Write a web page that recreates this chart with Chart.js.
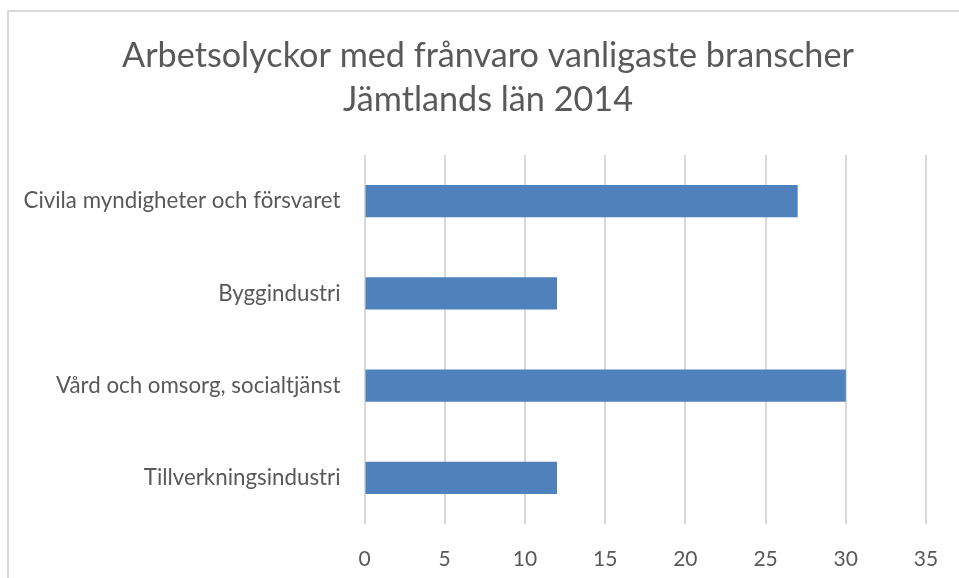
<!DOCTYPE html>
<html lang="sv">
<head>
    <meta charset="UTF-8">
    <script src="https://cdn.jsdelivr.net/npm/chart.js@4"></script>
    <title>Arbetsolyckor</title>
    <style>
        html, body { margin: 0; padding: 0; background: #fff; overflow: hidden; }
        #wrap { position: absolute; left: 0; top: 0; width: 959px; height: 578px; }
        #frame { position: absolute; left: 7px; top: 10px; width: 1000px; height: 700px;
                 border-left: 2px solid #d9d9d9; border-top: 2px solid #d9d9d9; }
    </style>
</head>
<body>
    <div id="frame"></div>
    <div id="wrap"><canvas id="myChart" width="959" height="578"></canvas></div>

    <script>
const categories = ['Civila myndigheter och försvaret', 'Byggindustri', 'Vård och omsorg, socialtjänst', 'Tillverkningsindustri'];
const values = [27, 12, 30, 12];
const titleLines = ['Arbetsolyckor med frånvaro vanligaste branscher', 'Jämtlands län 2014'];
const xTicks = [0, 5, 10, 15, 20, 25, 30, 35];

const textColor = '#595959';
const fontName = 'Lato, "Open Sans", sans-serif';

// title is centred on the whole frame, not on the plot, so draw it here
const titlePlugin = {
    id: 'frameTitle',
    afterDraw(chart) {
        const c = chart.ctx;
        c.save();
        c.fillStyle = textColor;
        c.font = '34.2px ' + fontName;
        c.textAlign = 'center';
        c.textBaseline = 'alphabetic';
        titleLines.forEach((t, i) => c.fillText(t, 488, 67 + i * 44));
        c.restore();
    }
};

let ctx = document.getElementById('myChart').getContext('2d');

let chart = new Chart(ctx, {
    type: 'bar',
    data: {
        labels: categories,
        datasets: [{
            label: 'Antal',
            data: values,
            backgroundColor: '#4f81bd',
            borderWidth: 0,
            categoryPercentage: 1,
            barPercentage: 0.35
        }]
    },
    options: {
        indexAxis: 'y',
        responsive: false,
        animation: false,
        layout: { padding: { left: 0, right: 33, top: 155, bottom: 0 } },
        plugins: {
            legend: { display: false },
            tooltip: { enabled: false },
            title: { display: false }
        },
        scales: {
            x: {
                min: 0,
                max: 35,
                afterBuildTicks: function(scale) {
                    scale.ticks = xTicks.map(v => ({ value: v }));
                },
                afterFit: function(scale) {
                    scale.height = 54;
                    scale.paddingLeft = 0;
                    scale.paddingRight = 0;
                },
                grid: { color: '#d9d9d9', lineWidth: 2, drawTicks: false },
                border: { display: false },
                ticks: {
                    color: textColor,
                    font: { family: fontName, size: 21 },
                    padding: 23
                }
            },
            y: {
                afterFit: function(scale) { scale.width = 364.5; },
                grid: { display: false, drawTicks: false },
                border: { display: false },
                ticks: {
                    color: textColor,
                    font: { family: fontName, size: 22.3 },
                    padding: 24
                }
            }
        }
    },
    plugins: [titlePlugin]
});
    </script>
</body>
</html>
